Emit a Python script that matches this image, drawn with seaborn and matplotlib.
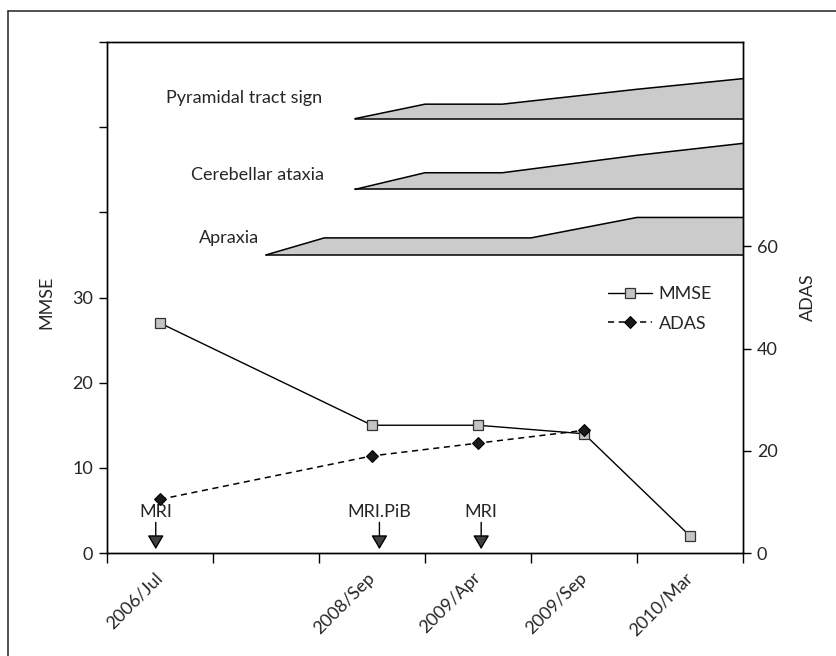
import numpy as np
import pandas as pd
import matplotlib
matplotlib.use('Agg')
from matplotlib import pyplot as plt
import seaborn as sns

# categories (second slot is an unlabeled gap on the time axis)
dates = ['2006/Jul', '', '2008/Sep', '2009/Apr', '2009/Sep', '2010/Mar']

mmse_pos = [0, 2, 3, 4, 5]
mmse_val = [27, 15, 15, 14, 2]
adas_pos = [0, 2, 3, 4]
adas_val = [10.5, 19, 21.5, 24]

# symptom bands, drawn in MMSE units
apraxia_x = [1.0, 1.55, 3.5, 4.5, 5.5]
apraxia_top = [35.0, 37.0, 37.0, 39.4, 39.4]
apraxia_base = 35.0
cereb_x = [1.84, 2.5, 3.23, 4.5, 5.5]
cereb_top = [42.7, 44.65, 44.65, 46.7, 48.1]
cereb_base = 42.7
pyram_x = [1.84, 2.5, 3.23, 4.5, 5.5]
pyram_top = [51.0, 52.7, 52.7, 54.45, 55.7]
pyram_base = 51.0

# imaging events
mri_labels = ['MRI', 'MRI.PiB', 'MRI']
mri_pos = [-0.04, 2.07, 3.03]

sns.set_style('white')
plt.rcParams['font.family'] = ['Lato', 'DejaVu Sans']
fs = 13

fig = plt.figure(figsize=(8.36, 6.56), dpi=100)
ax = fig.add_axes([107/836, 103/656, 636/836, 511/656])
ax2 = ax.twinx()

# outer frame of the figure panel
fig.add_artist(plt.Line2D([8/836, 8/836], [0, 1-11/656], color='#222222', lw=1.1, transform=fig.transFigure))
fig.add_artist(plt.Line2D([8/836, 1], [1-11/656, 1-11/656], color='#222222', lw=1.1, transform=fig.transFigure))

bands = [(apraxia_x, apraxia_top, apraxia_base, 'Apraxia'),
         (cereb_x, cereb_top, cereb_base, 'Cerebellar ataxia'),
         (pyram_x, pyram_top, pyram_base, 'Pyramidal tract sign')]
label_x = [0.93, 1.545, 1.53]
label_y = [37.0, 44.4, 53.4]
for (bx, bt, bb, name), lx, ly in zip(bands, label_x, label_y):
    ax.fill_between(bx, bb, bt, facecolor='#cbcbcb', edgecolor='none')
    ax.plot(bx, bt, color='black', lw=1.1)
    ax.plot([bx[0], bx[-1]], [bb, bb], color='black', lw=1.1)
    ax.text(lx, ly, name, ha='right', va='center', fontsize=fs)

mmse_df = pd.DataFrame({'pos': mmse_pos, 'val': mmse_val})
adas_df = pd.DataFrame({'pos': adas_pos, 'val': adas_val})

sns.lineplot(data=mmse_df, x='pos', y='val', ax=ax, color='black', lw=1,
             marker='s', markersize=7, markerfacecolor='#c4c4c4',
             markeredgecolor='#333333', markeredgewidth=0.9, label='MMSE', legend=False)
sns.lineplot(data=adas_df, x='pos', y='val', ax=ax2, color='black', lw=1.1,
             linestyle=(0, (4, 3)), marker='D', markersize=6, markerfacecolor='#1a1a1a',
             markeredgecolor='black', label='ADAS', legend=False)

for lab, p in zip(mri_labels, mri_pos):
    ax.text(p, 4.8, lab, ha='center', va='center', fontsize=fs)
    ax.annotate('', xy=(p, 0.45), xytext=(p, 3.6),
                arrowprops=dict(arrowstyle='-|>,head_length=0.85,head_width=0.5',
                                mutation_scale=10, color='black', fc='#404040',
                                lw=1, shrinkA=0, shrinkB=0))

ax.set_xlim(-0.5, 5.5)
ax.set_ylim(0, 60)
ax2.set_ylim(0, 100)

ax.set_xticks(np.arange(-0.5, 6, 1))
ax.set_xticklabels([])
ax.set_xticks(range(len(dates)), minor=True)
ax.set_xticklabels(dates, minor=True, rotation=45, ha='right', va='center',
                   rotation_mode='anchor', fontsize=fs)
ax.tick_params(axis='x', which='major', direction='out', length=7, width=1, color='black', bottom=True)
ax.tick_params(axis='x', which='minor', length=0, pad=16)

ax.set_yticks(range(0, 61, 10))
ax.set_yticklabels(['0', '10', '20', '30', '', '', ''])
ax.tick_params(axis='y', direction='out', length=6, width=1, color='black', left=True, labelsize=fs, pad=4)
ax2.set_yticks([0, 20, 40, 60])
ax2.tick_params(axis='y', direction='out', length=6, width=1, color='black', right=True, labelsize=fs, pad=4)

ax.set_xlabel('')
ax.set_ylabel('MMSE', fontsize=fs)
ax2.set_ylabel('ADAS', fontsize=fs)
ax.yaxis.set_label_coords(-0.083, 0.49)
ax2.yaxis.set_label_coords(1.0896, 0.5)

for a in (ax, ax2):
    for s in a.spines.values():
        s.set_color('black')
        s.set_linewidth(1)

h1, l1 = ax.get_legend_handles_labels()
h2, l2 = ax2.get_legend_handles_labels()
leg = ax2.legend(h1 + h2, l1 + l2, loc='upper left', bbox_to_anchor=(0.788, 0.522),
                 frameon=False, fontsize=fs, handlelength=2.4, handletextpad=0.4,
                 labelspacing=0.75, borderpad=0, borderaxespad=0)

fig.savefig('out.png', dpi=100)
